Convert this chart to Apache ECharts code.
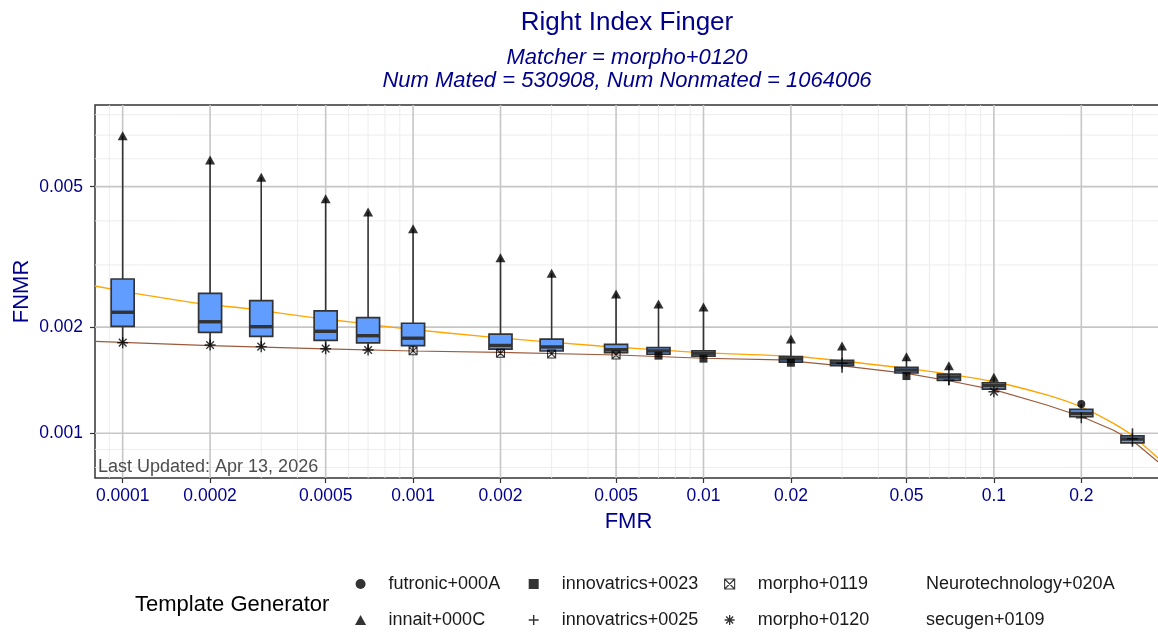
<!DOCTYPE html>
<html><head><meta charset="utf-8">
<script src="https://cdn.jsdelivr.net/npm/echarts@6/dist/echarts.min.js"></script>
<style>html,body{margin:0;padding:0;background:#fff}#c{width:1158px;height:633px}</style>
</head><body><div id="c"></div>
<script>
// ---- data ----
const FMR_LEVELS = [0.0001,0.0002,0.0003,0.0005,0.0007,0.001,0.002,0.003,0.005,0.007,0.01,0.02,0.03,0.05,0.07,0.1,0.2,0.3];
const FNMR_MIN    = [0.001806,0.001779,0.001760,0.001737,0.001722,0.001713,0.001686,0.001678,0.001667,0.001660,0.001628,0.001585,0.001485,0.001453,0.001370,0.001312,0.001106,0.000916];
const FNMR_Q1     = [0.002010,0.001933,0.001883,0.001835,0.001803,0.001771,0.001732,0.001711,0.001693,0.001675,0.001654,0.001592,0.001554,0.001482,0.001413,0.001335,0.001114,0.000940];
const FNMR_MEDIAN = [0.002203,0.002071,0.002005,0.001946,0.001891,0.001860,0.001774,0.001757,0.001726,0.001712,0.001686,0.001624,0.001582,0.001511,0.001444,0.001366,0.001138,0.000963];
const FNMR_Q3     = [0.002737,0.002493,0.002376,0.002222,0.002126,0.002051,0.001909,0.001850,0.001787,0.001749,0.001714,0.001650,0.001610,0.001538,0.001472,0.001391,0.001169,0.000983];
const FNMR_MAX    = [0.00697,0.005953,0.005316,0.004624,0.004239,0.003799,0.003146,0.002841,0.002482,0.002325,0.002281,0.001850,0.001768,0.001648,0.001554,0.001441,0.001211,0.001033];

const INNAIT_FMR  = [0.0001,0.0002,0.0003,0.0005,0.0007,0.001,0.002,0.003,0.005,0.007,0.01,0.02,0.03,0.05,0.07,0.1];
const INNAIT_FNMR = [0.00697,0.005953,0.005316,0.004624,0.004239,0.003799,0.003146,0.002841,0.002482,0.002325,0.002281,0.001850,0.001768,0.001648,0.001554,0.001441];
const MORPHO0120_FMR  = [0.0001,0.0002,0.0003,0.0005,0.0007,0.1];
const MORPHO0120_FNMR = [0.001806,0.001779,0.001760,0.001737,0.001722,0.001312];
const MORPHO0119_FMR  = [0.001,0.002,0.003,0.005];
const MORPHO0119_FNMR = [0.001713,0.001686,0.001678,0.001667];
const INNOV0023_FMR  = [0.007,0.01,0.02,0.05];
const INNOV0023_FNMR = [0.001660,0.001628,0.001585,0.001453];
const INNOV0025_FMR  = [0.03,0.07,0.2,0.3];
const INNOV0025_FNMR = [0.001580,0.001415,0.001106,0.000965];
const FUTRONIC_FMR  = [0.2];
const FUTRONIC_FNMR = [0.001211];

const ORANGE_FMR  = [0.0000803,0.0001102,0.0001821,0.0002744,0.0004532,0.0006393,0.0009135,0.001815,0.004401,0.009726,0.02149,0.05008,0.07062,0.1006,0.1520,0.2011,0.2571,0.3013,0.3673,0.3792];
const ORANGE_FNMR = [0.002615,0.002493,0.002336,0.002251,0.002126,0.002058,0.001984,0.001875,0.001768,0.001693,0.001648,0.001528,0.001469,0.001400,0.001284,0.001185,0.001069,0.000983,0.000851,0.000832];
const BROWN_FMR  = [0.0000803,0.0001998,0.0004972,0.0010016,0.001992,0.005025,0.01002,0.01834,0.03016,0.05008,0.07062,0.1006,0.1520,0.2011,0.2571,0.3013,0.3673,0.3792];
const BROWN_FNMR = [0.001823,0.001771,0.001734,0.001711,0.001695,0.001667,0.001632,0.001614,0.001552,0.001479,0.001407,0.001327,0.001203,0.001114,0.001022,0.000951,0.000831,0.000813];

const X_TICKS = [0.0001,0.0002,0.0005,0.001,0.002,0.005,0.01,0.02,0.05,0.1,0.2];
const X_TICK_LABELS = ['0.0001','0.0002','0.0005','0.001','0.002','0.005','0.01','0.02','0.05','0.1','0.2'];
const X_MINOR = [0.00009,0.0003,0.0004,0.0006,0.0007,0.0008,0.0009,0.003,0.004,0.006,0.007,0.008,0.009,0.03,0.04,0.06,0.07,0.08,0.09,0.3];
const Y_TICKS = [0.001,0.002,0.005];
const Y_TICK_LABELS = ['0.001','0.002','0.005'];
const Y_MINOR = [0.0008,0.0009,0.003,0.004,0.006,0.007,0.008];

const X_MIN = 0.0000803, X_MAX = 0.3792;
const Y_MIN = 0.000747, Y_MAX = 0.00852;

// ---- build options ----
const FONT = 'Liberation Sans, Arial, Helvetica, sans-serif';
const BLUE = '#00008B';
const zip = (a, b) => a.map((v, i) => [v, b[i]]);
const boxData = FMR_LEVELS.map((x, i) => [x, FNMR_MIN[i], FNMR_Q1[i], FNMR_MEDIAN[i], FNMR_Q3[i], FNMR_MAX[i]]);

function fmtFrom(ticks, labels) {
  const lg = ticks.map(t => Math.log10(t));
  return v => { const i = lg.findIndex(t => Math.abs(t - v) < 1e-6); return i >= 0 ? labels[i] : ''; };
}

function vGrid(color, width) {
  return function (params, api) {
    const p = api.coord([api.value(0), Y_MIN]);
    const cs = params.coordSys;
    return { type: 'line', shape: { x1: p[0], y1: cs.y, x2: p[0], y2: cs.y + cs.height }, style: { stroke: color, lineWidth: width } };
  };
}
function hGrid(color, width) {
  return function (params, api) {
    const p = api.coord([X_MIN, api.value(1)]);
    const cs = params.coordSys;
    return { type: 'line', shape: { x1: cs.x, y1: p[1], x2: cs.x + cs.width, y2: p[1] }, style: { stroke: color, lineWidth: width } };
  };
}

function renderBox(params, api) {
  const x = api.value(0);
  const pLo = api.coord([x, api.value(1)]);
  const pQ1 = api.coord([x, api.value(2)]);
  const pMed = api.coord([x, api.value(3)]);
  const pQ3 = api.coord([x, api.value(4)]);
  const pHi = api.coord([x, api.value(5)]);
  const cx = pLo[0], hw = 11.5;
  const ls = { stroke: '#333333', lineWidth: 1.6 };
  return { type: 'group', children: [
    { type: 'line', shape: { x1: cx, y1: pQ3[1], x2: cx, y2: pHi[1] }, style: ls },
    { type: 'line', shape: { x1: cx, y1: pQ1[1], x2: cx, y2: pLo[1] }, style: ls },
    { type: 'rect', shape: { x: cx - hw, y: pQ3[1], width: 2 * hw, height: pQ1[1] - pQ3[1] }, style: { fill: '#619CFF', stroke: '#333333', lineWidth: 1.7 } },
    { type: 'line', shape: { x1: cx - hw, y1: pMed[1], x2: cx + hw, y2: pMed[1] }, style: { stroke: '#333333', lineWidth: 3.4 } }
  ] };
}

const SYM_TRI = 'path://M5,0L10,9L0,9Z';
const SYM_SQ = 'path://M0,0L10,0L10,10L0,10Z';
const SYM_PLUS = 'path://M5,0L5,10M0,5L10,5';
const SYM_AST = 'path://M5,0L5,10M0,5L10,5M1.5,1.5L8.5,8.5M8.5,1.5L1.5,8.5';
const SYM_SQX = 'path://M0,0L10,0L10,10L0,10ZM0,0L10,10M10,0L0,10';
const strokeStyle = w => ({ color: 'rgba(0,0,0,0)', borderColor: '#000', borderWidth: w });
const fillStyle = { color: '#000' };
const blank = { color: 'rgba(0,0,0,0)', borderWidth: 0 };

const legendBase = {
  orient: 'vertical', top: 575, padding: 0, itemWidth: 46, itemHeight: 10, itemGap: 18,
  selectedMode: false, symbolKeepAspect: true, textStyle: { fontSize: 18, color: '#1a1a1a', fontFamily: FONT }
};

const option = {
  animation: false,
  textStyle: { fontFamily: FONT },
  title: {
    text: 'Right Index Finger',
    subtext: 'Matcher = morpho+0120\nNum Mated = 530908, Num Nonmated = 1064006',
    left: 627, top: 10, textAlign: 'center', padding: 0, itemGap: 10,
    textStyle: { fontSize: 26, fontWeight: 'normal', color: BLUE, fontFamily: FONT },
    subtextStyle: { fontSize: 22, fontStyle: 'italic', color: BLUE, lineHeight: 23, fontFamily: FONT }
  },
  grid: { left: 95, top: 105, width: 1067, bottom: 155, outerBoundsMode: 'none', show: true, borderColor: '#333333', borderWidth: 1.5, backgroundColor: '#fff' },
  xAxis: [
    { type: 'log', min: X_MIN, max: X_MAX, position: 'top', show: false },
    { type: 'value', min: Math.log10(X_MIN), max: Math.log10(X_MAX), position: 'bottom',
      axisLine: { show: false }, splitLine: { show: false },
      axisTick: { show: true, customValues: X_TICKS.map(Math.log10), length: 5, lineStyle: { color: '#333333', width: 1.2 } },
      axisLabel: { customValues: X_TICKS.map(Math.log10), formatter: fmtFrom(X_TICKS, X_TICK_LABELS), fontSize: 17.5, color: BLUE, margin: 9, fontFamily: FONT },
      name: 'FMR', nameLocation: 'middle', nameGap: 33, nameTextStyle: { fontSize: 22, color: BLUE, fontFamily: FONT } }
  ],
  yAxis: [
    { type: 'log', min: Y_MIN, max: Y_MAX, position: 'right', show: false },
    { type: 'value', min: Math.log10(Y_MIN), max: Math.log10(Y_MAX), position: 'left',
      axisLine: { show: false }, splitLine: { show: false },
      axisTick: { show: true, customValues: Y_TICKS.map(Math.log10), length: 5, lineStyle: { color: '#333333', width: 1.2 } },
      axisLabel: { customValues: Y_TICKS.map(Math.log10), formatter: fmtFrom(Y_TICKS, Y_TICK_LABELS), fontSize: 17.5, color: BLUE, margin: 12, fontFamily: FONT },
      name: 'FNMR', nameLocation: 'middle', nameGap: 62, nameMoveOverlap: false, nameRotate: 90, nameTextStyle: { fontSize: 22, color: BLUE, fontFamily: FONT } }
  ],
  legend: [
    Object.assign({}, legendBase, { left: 355, data: [
      { name: 'futronic+000A', icon: 'circle', itemStyle: fillStyle },
      { name: 'innait+000C', icon: SYM_TRI, itemStyle: fillStyle } ] }),
    Object.assign({}, legendBase, { left: 528, data: [
      { name: 'innovatrics+0023', icon: SYM_SQ, itemStyle: fillStyle },
      { name: 'innovatrics+0025', icon: SYM_PLUS, itemStyle: strokeStyle(1.4) } ] }),
    Object.assign({}, legendBase, { left: 724, data: [
      { name: 'morpho+0119', icon: SYM_SQX, itemStyle: strokeStyle(1.1) },
      { name: 'morpho+0120', icon: SYM_AST, itemStyle: strokeStyle(1.3) } ] }),
    Object.assign({}, legendBase, { left: 893, data: [
      { name: 'Neurotechnology+020A', icon: 'circle', itemStyle: blank },
      { name: 'secugen+0109', icon: 'circle', itemStyle: blank } ] })
  ],
  graphic: [
    { type: 'text', left: 135, top: 594, style: { text: 'Template Generator', fontSize: 22, fill: '#000', fontFamily: FONT } },
    { type: 'text', left: 98, top: 458, z: 50, style: { text: 'Last Updated: Apr 13, 2026', fontSize: 18, fill: '#4d4d4d', fontFamily: FONT } }
  ],
  series: [
    { type: 'custom', name: 'gridMinorX', xAxisIndex: 0, yAxisIndex: 0, z: 1, silent: true, renderItem: vGrid('#ebebeb', 0.9), data: X_MINOR.map(v => [v, Y_MIN]) },
    { type: 'custom', name: 'gridMinorY', xAxisIndex: 0, yAxisIndex: 0, z: 1, silent: true, renderItem: hGrid('#ebebeb', 0.9), data: Y_MINOR.map(v => [X_MIN, v]) },
    { type: 'custom', name: 'gridMajorX', xAxisIndex: 0, yAxisIndex: 0, z: 1, silent: true, renderItem: vGrid('#c6c6c6', 1.6), data: X_TICKS.map(v => [v, Y_MIN]) },
    { type: 'custom', name: 'gridMajorY', xAxisIndex: 0, yAxisIndex: 0, z: 1, silent: true, renderItem: hGrid('#c6c6c6', 1.6), data: Y_TICKS.map(v => [X_MIN, v]) },
    { type: 'line', name: 'curveOrange', xAxisIndex: 0, yAxisIndex: 0, z: 2, silent: true, showSymbol: false, smooth: 0.2,
      lineStyle: { color: '#FFA500', width: 1.3 }, data: zip(ORANGE_FMR, ORANGE_FNMR) },
    { type: 'line', name: 'curveBrown', xAxisIndex: 0, yAxisIndex: 0, z: 2, silent: true, showSymbol: false,
      lineStyle: { color: '#9C5A3C', width: 1.2 }, data: zip(BROWN_FMR, BROWN_FNMR) },
    { type: 'custom', name: 'boxes', xAxisIndex: 0, yAxisIndex: 0, z: 3, silent: true, renderItem: renderBox,
      encode: { x: 0, y: [1, 2, 3, 4, 5] }, data: boxData },
    { type: 'scatter', name: 'futronic+000A', xAxisIndex: 0, yAxisIndex: 0, z: 4, silent: true, symbol: 'circle', symbolSize: 8, itemStyle: fillStyle, data: zip(FUTRONIC_FMR, FUTRONIC_FNMR) },
    { type: 'scatter', name: 'innait+000C', xAxisIndex: 0, yAxisIndex: 0, z: 4, silent: true, symbol: SYM_TRI, symbolSize: [10, 9], itemStyle: fillStyle, data: zip(INNAIT_FMR, INNAIT_FNMR) },
    { type: 'scatter', name: 'innovatrics+0023', xAxisIndex: 0, yAxisIndex: 0, z: 4, silent: true, symbol: 'rect', symbolSize: 8, itemStyle: fillStyle, data: zip(INNOV0023_FMR, INNOV0023_FNMR) },
    { type: 'scatter', name: 'innovatrics+0025', xAxisIndex: 0, yAxisIndex: 0, z: 4, silent: true, symbol: SYM_PLUS, symbolSize: 11, itemStyle: strokeStyle(1.4), data: zip(INNOV0025_FMR, INNOV0025_FNMR) },
    { type: 'scatter', name: 'morpho+0119', xAxisIndex: 0, yAxisIndex: 0, z: 4, silent: true, symbol: SYM_SQX, symbolSize: 8, itemStyle: strokeStyle(1.1), data: zip(MORPHO0119_FMR, MORPHO0119_FNMR) },
    { type: 'scatter', name: 'morpho+0120', xAxisIndex: 0, yAxisIndex: 0, z: 4, silent: true, symbol: SYM_AST, symbolSize: 11, itemStyle: strokeStyle(1.4), data: zip(MORPHO0120_FMR, MORPHO0120_FNMR) },
    { type: 'scatter', name: 'Neurotechnology+020A', xAxisIndex: 0, yAxisIndex: 0, z: 4, silent: true, itemStyle: blank, data: [] },
    { type: 'scatter', name: 'secugen+0109', xAxisIndex: 0, yAxisIndex: 0, z: 4, silent: true, itemStyle: blank, data: [] }
  ]
};

const chart = echarts.init(document.getElementById('c'), null, { renderer: 'canvas' });
chart.setOption(option);
</script></body></html>
